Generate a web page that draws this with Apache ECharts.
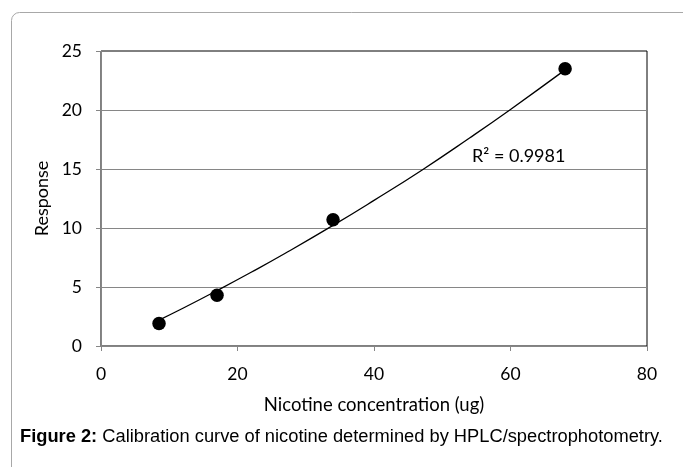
<!DOCTYPE html>
<html>
<head>
<meta charset="utf-8">
<script src="https://cdn.jsdelivr.net/npm/echarts@6/dist/echarts.min.js"></script>
<style>
html,body{margin:0;padding:0;background:#fff;}
#chart{width:683px;height:467px;}
</style>
</head>
<body>
<div id="chart"></div>
<script>
// Measured calibration points
const concentration = [8.5, 17, 34, 68];
const response = [1.9, 4.3, 10.7, 23.5];
// Polynomial trendline
const trendX = [8.5, 12, 17, 22, 27, 34, 40, 47, 54, 60, 68];
const trendY = [2.2, 3.2, 4.7, 6.25, 7.86, 10.22, 12.34, 14.9, 17.63, 20.05, 23.4];
const xTicks = [0, 20, 40, 60, 80];
const yTicks = [0, 5, 10, 15, 20, 25];
const r2Label = 'R² = 0.9981';
const xTitle = 'Nicotine concentration (ug)';
const yTitle = 'Response';
const captionBold = 'Figure 2:';
const captionText = ' Calibration curve of nicotine determined by HPLC/spectrophotometry.';

const chart = echarts.init(document.getElementById('chart'));
const axisFont = 'Lato';
chart.setOption({
  animation: false,
  backgroundColor: '#fff',
  grid: {left: 101, right: 36, top: 51, bottom: 121, show: true, borderColor: '#000', borderWidth: 1},
  xAxis: {
    type: 'value', min: xTicks[0], max: xTicks[xTicks.length - 1], interval: 20,
    name: xTitle, nameLocation: 'middle', nameGap: 50,
    nameTextStyle: {fontFamily: axisFont, fontSize: 18.5, color: '#000'},
    axisLine: {show: true, lineStyle: {color: '#868686', width: 1}},
    axisTick: {show: true, inside: false, length: 5, lineStyle: {color: '#868686'}},
    axisLabel: {fontFamily: axisFont, fontSize: 17.5, color: '#000', margin: 19},
    splitLine: {show: false}
  },
  yAxis: {
    type: 'value', min: yTicks[0], max: yTicks[yTicks.length - 1], interval: 5,
    name: yTitle, nameLocation: 'middle', nameGap: 43, nameRotate: 90,
    nameTextStyle: {fontFamily: axisFont, fontSize: 18, color: '#000'},
    axisLine: {show: true, lineStyle: {color: '#868686', width: 1}},
    axisTick: {show: true, inside: false, length: 5, lineStyle: {color: '#868686'}},
    axisLabel: {fontFamily: axisFont, fontSize: 17.5, color: '#000', margin: 19},
    splitLine: {show: true, showMaxLine: false, lineStyle: {color: '#868686', width: 1}}
  },
  series: [
    {
      type: 'line', data: trendX.map((x, i) => [x, trendY[i]]),
      smooth: true, showSymbol: false, symbol: 'none',
      lineStyle: {color: '#000', width: 1.3}, z: 2
    },
    {
      type: 'scatter', data: concentration.map((x, i) => [x, response[i]]),
      symbol: 'circle', symbolSize: 13.5,
      itemStyle: {color: '#000', opacity: 1}, z: 3
    }
  ],
  graphic: [
    {type: 'rect', left: 9, top: 10, shape: {width: 700, height: 500, r: 8},
     style: {fill: 'none', stroke: '#a8a8a8', lineWidth: 1}, silent: true, z: -1},
    {type: 'text', left: 472, top: 147,
     style: {text: r2Label, font: '18px Lato', fill: '#000'}},
    {type: 'text', left: 20, top: 428,
     style: {
       text: '{b|' + captionBold + '}{n|' + captionText + '}',
       rich: {
         b: {fontFamily: 'Liberation Sans', fontWeight: 'bold', fontSize: 18.3, fill: '#000'},
         n: {fontFamily: 'Liberation Sans', fontSize: 18.3, fill: '#000'}
       }
     }}
  ]
});
</script>
</body>
</html>
